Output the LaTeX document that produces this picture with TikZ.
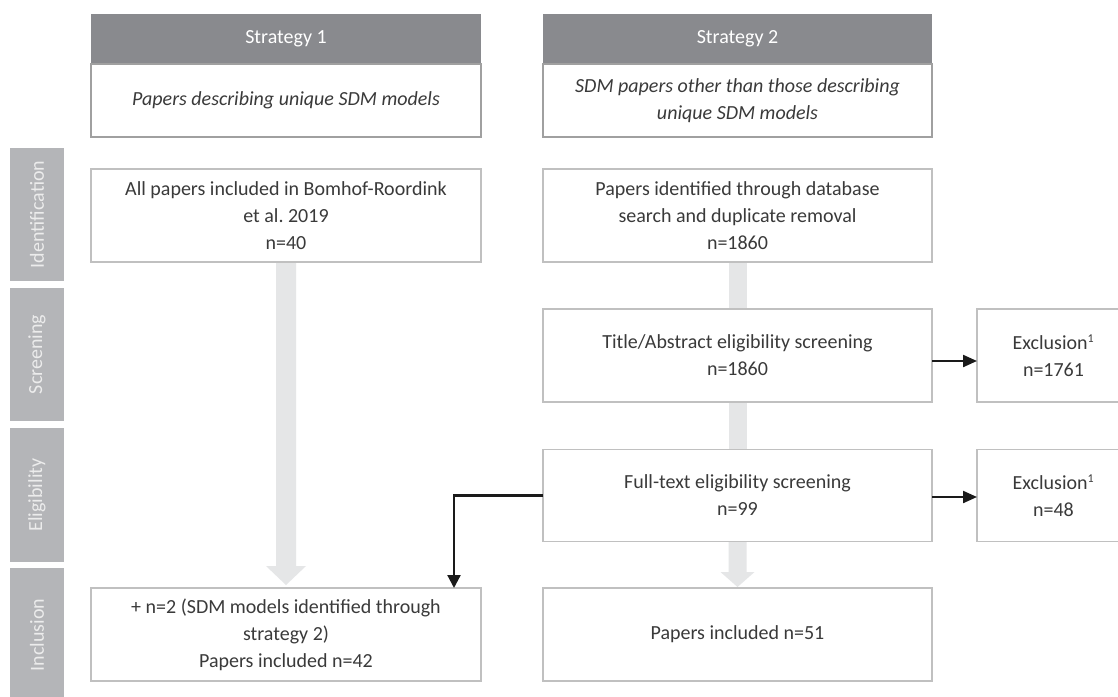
\documentclass[tikz,border=0pt]{standalone}
\usepackage{fontspec}
\setmainfont{Carlito}
\frenchspacing
\usetikzlibrary{arrows.meta,backgrounds,calc}
\pgfdeclarelayer{bottom}
\pgfsetlayers{bottom,background,main}
\definecolor{hdr}{RGB}{137,138,142}
\definecolor{labfill}{RGB}{180,181,184}
\definecolor{labtext}{RGB}{236,236,236}
\definecolor{barc}{RGB}{229,230,231}
\definecolor{bord}{RGB}{192,192,192}
\definecolor{sbord}{RGB}{160,160,160}
\definecolor{txt}{RGB}{58,58,58}
\definecolor{conc}{RGB}{26,26,26}
\tikzset{
  basefont/.style={font=\fontsize{20pt}{27pt}\selectfont},
  hdrbox/.style={basefont, fill=hdr, text=white, inner sep=0pt, outer sep=0pt, minimum height=50pt, align=center},
  stratbox/.style={draw=sbord, line width=1.5pt, fill=white, text=txt, inner sep=0pt, outer sep=0pt, minimum height=73pt, align=center, font=\fontsize{20pt}{27pt}\selectfont\itshape},
  flowbox/.style={basefont, draw=bord, line width=1.5pt, fill=white, text=txt, inner sep=0pt, outer sep=0pt, align=center},
  phase/.style={basefont, fill=labfill, text=labtext, inner sep=0pt, outer sep=0pt, rotate=90, minimum height=54pt},
  conn/.style={draw=conc, line width=2.2pt, -{Triangle[width=13pt,length=13pt]}},
  bar/.style={fill=barc, draw=none}
}
\begin{document}
\begin{tikzpicture}[x=1pt,y=-1pt]
\useasboundingbox (0,0) rectangle (1118,696);
\clip (0,0) rectangle (1118,696);
\begin{pgfonlayer}{bottom}
\fill[white] (0,0) rectangle (1118,696);
\end{pgfonlayer}
% phase labels
\node[phase, minimum width=133pt] (L1) at (37,214.5) {Identification};
\node[phase, minimum width=133pt] (L2) at (37,354.5) {Screening};
\node[phase, minimum width=134pt] (L3) at (37,495) {Eligibility};
\node[phase, minimum width=134pt] (L4) at (37,635) {Inclusion};
% strategy headers
\node[hdrbox, minimum width=390pt] (H1) at (286,39) {Strategy 1};
\node[stratbox, minimum width=390pt] (S1) at (286,100.5) {Papers describing unique SDM models};
\node[hdrbox, minimum width=389pt] (H2) at (737.5,39) {Strategy 2};
\node[stratbox, minimum width=389pt] (S2) at (737.5,100.5) {SDM papers other than those describing\\unique SDM models};
% flow boxes
\node[flowbox, minimum width=390pt, minimum height=93pt] (A1) at (286,215.5) {All papers included in Bomhof-Roordink\\et al. 2019\\n=40};
\node[flowbox, minimum width=390pt, minimum height=93pt] (A3) at (286,634.5) {+ n=2 (SDM models identified through\\strategy 2)\\Papers included n=42};
\node[flowbox, minimum width=389pt, minimum height=93pt] (B1) at (737.5,215.5) {Papers identified through database\\search and duplicate removal\\n=1860};
\node[flowbox, minimum width=389pt, minimum height=93pt] (B2) at (737.5,355.5) {Title/Abstract eligibility screening\\n=1860};
\node[flowbox, minimum width=389pt, minimum height=92pt] (B3) at (737.5,495.5) {Full-text eligibility screening\\n=99};
\node[flowbox, minimum width=389pt, minimum height=93pt] (B4) at (737.5,634.5) {Papers included n=51};
\node[flowbox, minimum width=153pt, minimum height=93pt] (E1) at (1053.5,355.5) {Exclusion\textsuperscript{\fontsize{12pt}{12pt}\selectfont 1}\\n=1761};
\node[flowbox, minimum width=153pt, minimum height=92pt] (E2) at (1053.5,495.5) {Exclusion\textsuperscript{\fontsize{12pt}{12pt}\selectfont 1}\\n=48};
% grey flow bars
\begin{scope}[on background layer]
\fill[bar] ($(A1.south)+(-10,0)$) -- ($(A1.south)+(10,0)$) -- ($(A3.north)+(10,-22)$) -- ($(A3.north)+(20,-22)$) -- ($(A3.north)+(0,-3)$) -- ($(A3.north)+(-20,-22)$) -- ($(A3.north)+(-10,-22)$) -- cycle;
\fill[bar] ($(B1.south)+(-9,0)$) rectangle ($(B2.north)+(9,0)$);
\fill[bar] ($(B2.south)+(-9,0)$) rectangle ($(B3.north)+(9,0)$);
\fill[bar] ($(B3.south)+(-9,0)$) -- ($(B3.south)+(9,0)$) -- ($(B4.north)+(9,-16)$) -- ($(B4.north)+(17,-16)$) -- ($(B4.north)+(0,-1)$) -- ($(B4.north)+(-17,-16)$) -- ($(B4.north)+(-9,-16)$) -- cycle;
\end{scope}
% connectors
\draw[conn, -{Triangle[width=12pt,length=14pt]}] ([yshift=-5.5pt]B2.east) -- ([yshift=-5.5pt]E1.west);
\draw[conn, -{Triangle[width=12pt,length=14pt]}] ([yshift=-1.5pt]B3.east) -- ([yshift=-1.5pt]E2.west);
\draw[conn] (B3.west) -| ([xshift=-27pt]A3.north east);
\end{tikzpicture}
\end{document}
